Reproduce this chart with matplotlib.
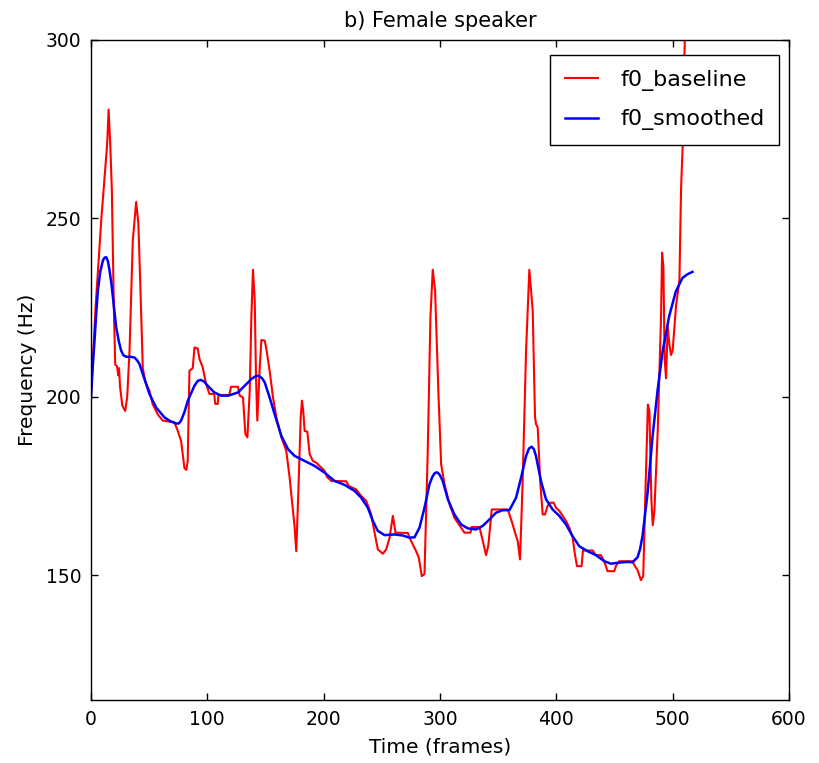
#f0 contour of the female speaker: baseline vs smoothed
import numpy as np
import matplotlib
matplotlib.use('Agg')
import matplotlib.pyplot as plt

# f0_baseline (frame, Hz)
base_t = [0, 4, 9, 14, 15.2, 16.6, 18, 19.7, 20.9, 22.5, 23.5, 24.2, 25, 27, 29.5, 31.2,
          33.2, 36, 38.9, 40.8, 42.6, 44.6, 47, 50.3, 53, 57.5, 61.8, 71.8, 74.7, 77.5,
          80.4, 82, 83.2, 84.7, 87.5, 89, 91.8, 93.3, 96.1, 99, 101.8, 106, 106.8, 109,
          109.6, 119, 120.4, 126.4, 127.9, 130.7, 132.8, 134.5, 136.5, 137.9, 139.3, 140.8,
          141.9, 143, 145.1, 146.5, 149.4, 150.8, 153.6, 156.5, 159.4, 163.7, 167.9, 170.8,
          173.6, 175.1, 176.5, 178.5, 180.3, 181.4, 182.5, 183.7, 186, 188, 190.8, 193.7,
          200.9, 203, 206.6, 219.5, 221.5, 228, 232.3, 236.6, 240.9, 243.8, 246.6, 250.9,
          253.8, 256.7, 259.5, 261.8, 272.4, 273.8, 276.6, 279.5, 281.8, 284.4, 286.7,
          289.5, 291.8, 293.8, 295.8, 297.5, 298.7, 301, 303.9, 308.2, 312.4, 316.7, 321,
          326.2, 327.3, 333.9, 336.8, 339.6, 341.6, 344.5, 358.2, 359.7, 362.5, 364.5,
          366.8, 368.8, 371, 374, 376.8, 379.7, 381.7, 382.6, 384, 386.3, 388.3, 390.3,
          392.5, 394.8, 397.7, 399.7, 402.6, 405.4, 408.3, 411.2, 414, 416, 417.8, 421.7,
          422.9, 431.2, 434, 438.3, 441.2, 444, 449.8, 451.2, 454.1, 465.5, 467, 469.8,
          472.7, 474.7, 476.4, 478.7, 480, 481.7, 482.9, 484.3, 487.2, 490, 490.9, 492,
          493.1, 494.3, 495.7, 497.2, 498.6, 500, 502.9, 505.8, 507.2, 508.6, 511]
base_f = [200, 225, 250, 271, 280.5, 271, 257.9, 225, 209, 208.5, 206, 208, 203, 197.5, 196, 200,
          212.9, 243.8, 254.6, 248.5, 229.8, 208, 204, 201.7, 198, 195, 193.3, 192.8, 190.4, 187.6,
          180, 179.5, 182, 207.3, 208, 213.8, 213.5, 210.6, 208.2, 203.6, 200.8, 200.8, 198, 198,
          200.5, 200.5, 202.8, 202.8, 200.3, 199.8, 189.5, 188.6, 201.7, 222.3, 235.6, 227,
          205.4, 193.3, 208.2, 215.9, 215.7, 213.4, 207.3, 199.8, 194.2, 188.6, 184.8, 177.3,
          168, 163.3, 156.7, 175.5, 194.2, 198.9, 196, 190.4, 190.2, 183.9, 182, 181.5,
          179.2, 177.5, 176.4, 176.3, 175, 174, 172.2, 170.8, 167, 161.9, 157.2, 156,
          157.2, 160.5, 166.6, 161.9, 161.8, 160.5, 158.6, 156.7, 154.9, 149.7, 150.3,
          184.8, 222.3, 235.6, 229.8, 212.9, 200.8, 181.1, 175.5, 169.9, 166.1, 164, 161.9,
          161.9, 163.5, 163.5, 159.6, 155.6, 158.4, 168.4, 168.4, 167, 164.2, 161.9,
          159.6, 154.4, 175.5, 212.9, 235.6, 224.2, 194.2, 192.3, 191.4, 175.5, 167, 167,
          169.4, 170.3, 170.3, 168.9, 168, 166.6, 165.2, 163.3, 160.5, 155.8, 152.5, 152.5,
          156.9, 156.9, 155.6, 155.6, 153.9, 151.1, 151.1, 152.5, 153.9, 153.9, 152.8, 151.4,
          148.6, 149.7, 171, 197.8, 196, 171, 164, 168, 190.8, 222.6, 240.4, 236.5,
          210.7, 205.2, 219.7, 214.6, 211.7, 213, 225.6, 232.6, 258.3, 270.2, 310]

# f0_smoothed
smooth_t = [0, 1.5, 3.1, 4.5, 6, 8, 10.3, 11.8, 13.2, 14.6, 16, 17.5, 18.9, 21.7, 24, 26,
            28, 30.3, 34, 37.4, 39.5, 41.7, 46, 50.3, 56, 63.2, 68, 73.2, 75.5, 77.5, 80.5,
            83.3, 89, 92, 94.7, 97.5, 100.3, 106.1, 111.8, 118, 126.4, 135, 138, 140.8, 143,
            145.1, 147.3, 149.4, 153.6, 157.9, 163.7, 169.4, 175.1, 183.7, 192.3, 200.9,
            209.4, 218, 226.6, 232.3, 238, 242.3, 246.6, 252.4, 260.9, 268.1, 273.8, 278.1,
            282.4, 286.7, 291, 293.5, 295.3, 296.8, 298.1, 300, 302.4, 306.7, 312.4, 318.2,
            323.9, 331, 336.8, 342.5, 348.2, 353.9, 359.7, 365.4, 369.7, 374, 376.5, 378.8,
            380.7, 382.5, 386.8, 391.1, 396.8, 402.6, 408.3, 414, 419.7, 426.9, 434, 441.2,
            446.9, 454, 461.2, 465.5, 469.8, 472, 474.1, 478.4, 482.7, 487, 491.3, 497, 502.7,
            508.4, 512.5, 517]
smooth_f = [199.4, 208, 215.7, 223, 229.8, 235, 238.2, 239, 239.1, 238, 235.4, 232, 227.9,
            219.5, 215.5, 212.9, 211.6, 211.2, 211.2, 211, 210.3, 209.2, 205, 200.8, 197, 194.2,
            193.2, 192.5, 192.5, 193.3, 195.8, 198.9, 203.1, 204.5, 204.7, 204.2, 203.1, 201.2,
            200.3, 200.3, 201.2, 204, 205, 205.6, 205.9, 205.7, 205.1, 204, 199.8, 195.1, 189,
            185.3, 183.4, 182, 180.6, 178.7, 176.4, 175.3, 173.6, 171.7, 168.9, 165.2, 162.4,
            161.2, 161.4, 161.1, 160.5, 160.6, 163.3, 168.9, 175.5, 177.6, 178.5, 178.8, 178.7,
            178, 176.4, 171.3, 167, 164.2, 163.1, 162.8, 163.8, 165.6, 167.5, 168.2, 168.2,
            171.7, 177.3, 183.4, 185.5, 186, 185.3, 183.4, 176.4, 171.3, 168.4, 166.6, 164.2,
            160.9, 158.1, 156.7, 155.6, 153.9, 153.2, 153.5, 153.7, 153.6, 155, 157.3, 161,
            172.9, 188.8, 201.7, 212.6, 222.6, 229.5, 233.3, 234.3, 235]

plt.rcParams['xtick.direction'] = 'in'
plt.rcParams['ytick.direction'] = 'in'
plt.rcParams['xtick.top'] = True
plt.rcParams['ytick.right'] = True

fig = plt.figure(figsize=(8.19, 7.63), dpi=100)
ax = fig.add_axes([0.111, 0.0826, 0.8524, 0.865])
ax.plot(base_t, base_f, color='r', lw=1.5, label='f0_baseline')
ax.plot(smooth_t, smooth_f, color='b', lw=1.8, label='f0_smoothed')
ax.set_xlim(0, 600)
ax.set_ylim(115, 300)
ax.set_xticks([0, 100, 200, 300, 400, 500, 600])
ax.set_yticks([150, 200, 250, 300])
ax.tick_params(length=5, width=1, pad=7, labelsize=13.5)
for s in ax.spines.values():
    s.set_linewidth(1.0)
    s.set_color('black')
ax.set_title('b) Female speaker', fontsize=15, pad=9)
ax.set_xlabel('Time (frames)', fontsize=14.5, labelpad=6)
ax.set_ylabel('Frequency (Hz)', fontsize=14.5, labelpad=6)
leg = ax.legend(loc='upper right', bbox_to_anchor=(0.9857, 0.977), borderaxespad=0,
                fontsize=16, handlelength=1.5, handletextpad=1.0, labelspacing=0.85,
                borderpad=0.65, fancybox=False, framealpha=1)
leg.get_frame().set_edgecolor('black')
leg.get_frame().set_linewidth(1.0)
plt.savefig('out.png', dpi=100, facecolor='white')
